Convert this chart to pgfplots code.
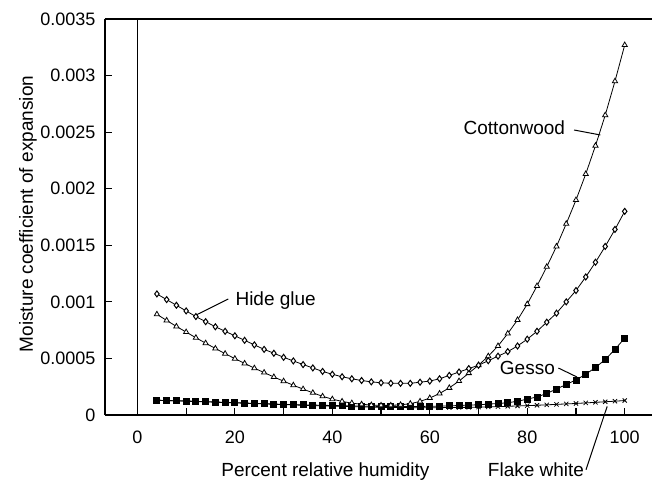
\documentclass[border=0pt]{standalone}
\usepackage{pgfplots}
\pgfplotsset{compat=1.18}
\usepackage{pgfplotstable}
\usepackage{fontspec}
\setmainfont{Liberation Sans}

\pgfplotstableread{
x C H G F
4 0.00089 0.00107 0.00013 0.00013
6 0.000836 0.00102 0.000128 0.000128
8 0.000783 0.00097 0.000126 0.000125
10 0.000733 0.00092 0.000124 0.000122
12 0.000683 0.00087 0.000121 0.000119
14 0.000635 0.000825 0.000118 0.000116
16 0.000588 0.00078 0.000115 0.000113
18 0.000542 0.00074 0.000112 0.00011
20 0.000498 0.0007 0.000109 0.000107
22 0.000456 0.00066 0.000106 0.000104
24 0.000414 0.00062 0.000103 0.000101
26 0.000375 0.00058 0.0001 0.000098
28 0.000336 0.000546 0.000097 0.000095
30 0.000299 0.00051 0.000094 0.000092
32 0.000263 0.000478 0.000092 0.000089
34 0.000229 0.000446 0.00009 0.000086
36 0.000196 0.000416 0.000088 0.000083
38 0.000165 0.000385 0.000086 0.00008
40 0.00014 0.00036 0.000084 0.000078
42 0.00012 0.000338 0.000082 0.000076
44 0.000105 0.00032 0.00008 0.000074
46 0.000095 0.000305 0.000078 0.000072
48 0.000088 0.000293 0.000077 0.00007
50 0.000085 0.000285 0.000076 0.000068
52 0.000085 0.00028 0.000075 0.000067
54 0.00009 0.00028 0.000075 0.000066
56 0.0001 0.00028 0.000075 0.000065
58 0.00012 0.00029 0.000076 0.000065
60 0.00015 0.0003 0.000077 0.000065
62 0.00019 0.00032 0.000079 0.000065
64 0.00024 0.00035 0.000081 0.000066
66 0.0003 0.00038 0.000084 0.000067
68 0.00037 0.00041 0.000087 0.000068
70 0.00044 0.00044 0.000091 0.00007
72 0.00052 0.00048 0.000096 0.000072
74 0.00061 0.00052 0.000102 0.000074
76 0.00072 0.00056 0.000108 0.000077
78 0.00084 0.00061 0.000122 0.00008
80 0.00098 0.00067 0.00014 0.000083
82 0.00114 0.00074 0.00016 0.000086
84 0.00131 0.00082 0.00019 0.00009
86 0.00149 0.0009 0.00023 0.000094
88 0.00169 0.001 0.00027 0.000098
90 0.0019 0.0011 0.00031 0.000102
92 0.00213 0.00122 0.00036 0.000107
94 0.00238 0.00135 0.00042 0.000112
96 0.00265 0.00149 0.00049 0.000117
98 0.00295 0.00164 0.00058 0.000122
100 0.00327 0.0018 0.00068 0.000128
}\datatable

\begin{document}
\begin{tikzpicture}
\path[use as bounding box] (-105pt,-65pt) rectangle (547pt,415pt);
\begin{axis}[
  at={(0pt,0pt)}, anchor=south west,
  width=547pt, height=396pt, scale only axis,
  xmin=-6.65, xmax=105.6, ymin=0, ymax=0.0035,
  axis x line=box, axis y line=left,
  axis line style={-, line width=1.2pt, black},
  xtick={0,10,20,30,40,50,60,70,80,90,100},
  xticklabels={0,,20,,40,,60,,80,,100},
  ytick={0,0.0005,0.001,0.0015,0.002,0.0025,0.003,0.0035},
  yticklabels={0,0.0005,0.001,0.0015,0.002,0.0025,0.003,0.0035},
  scaled y ticks=false, scaled x ticks=false,
  xtick pos=left, ytick pos=left,
  tick align=inside,
  major tick length=6.7pt,
  tick style={black, line width=1.2pt},
  /pgf/number format/assume math mode=true,
  every tick label/.append style={font=\fontsize{18}{20}\selectfont},
  xticklabel style={yshift=-12pt},
  yticklabel style={xshift=-6pt},
  clip=false,
]
\addplot[black, line width=1.3pt] coordinates {(0,0) (0,0.0035)};
\addplot[black, line width=0.8pt, mark=x, mark size=3pt, mark options={solid}] table[x=x, y=F] {\datatable};
\addplot[black, line width=0.8pt, mark=square*, mark size=3pt, mark options={solid}] table[x=x, y=G] {\datatable};
\addplot[black, line width=0.8pt, mark=triangle*, mark size=3pt, mark options={solid, fill=white, line width=0.8pt}] table[x=x, y=C] {\datatable};
\addplot[black, line width=0.8pt, mark=diamond*, mark size=3pt, mark options={solid, fill=white, line width=1pt}] table[x=x, y=H] {\datatable};

\node[anchor=base east, inner sep=0pt, font=\fontsize{19}{22}\selectfont] at (axis cs:87.8,0.002475) {Cottonwood};
\draw[line width=1pt] (axis cs:89.6,0.002519) -- (axis cs:95,0.002475);
\node[anchor=base west, inner sep=0pt, font=\fontsize{19}{22}\selectfont] at (axis cs:20.1,0.000972) {Hide glue};
\draw[line width=1pt] (axis cs:18.65,0.001025) -- (axis cs:11.63,0.000875);
\node[anchor=base east, inner sep=0pt, font=\fontsize{19}{22}\selectfont] at (axis cs:85.7,0.000354) {Gesso};
\draw[line width=1pt] (axis cs:86.4,0.000415) -- (axis cs:90.2,0.000336);
\node[anchor=base east, inner sep=0pt, font=\fontsize{19}{22}\selectfont] at (axis cs:91.7,-0.000545) {Flake white};
\draw[line width=1pt] (axis cs:92.05,-0.000484) -- (axis cs:96.4,0.000076);
\node[anchor=base, inner sep=0pt, font=\fontsize{19}{22}\selectfont] at (axis cs:38.57,-0.000545) {Percent relative humidity};
\end{axis}
\node[rotate=90, inner sep=0pt, font=\fontsize{19}{22}\selectfont] at (-77pt,201pt) {Moisture coefficient of expansion};
\end{tikzpicture}
\end{document}
